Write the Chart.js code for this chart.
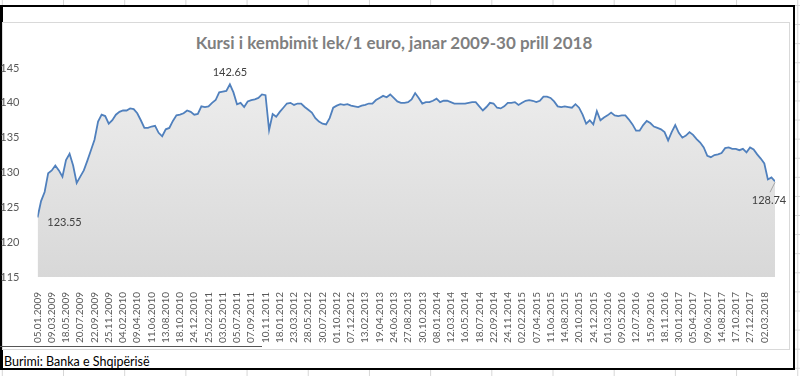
<!DOCTYPE html>
<html>
<head>
<meta charset="utf-8">
<script src="https://cdn.jsdelivr.net/npm/chart.js@4/dist/chart.umd.min.js"></script>
<style>
body{margin:0;width:800px;height:376px;position:relative;overflow:hidden;font-family:Lato,"Open Sans",sans-serif;
background:
linear-gradient(to right,#d6d6d6 1px,transparent 1px) 63px 0/61.2px 100%,
linear-gradient(to bottom,#d6d6d6 1px,transparent 1px) 0 5px/100% 19.1px,#fff;}
#box{position:absolute;left:0;top:5px;width:795px;height:365px;box-sizing:border-box;border:2px solid #000;border-left-width:3px;background:#fff}
#obj{position:absolute;left:2px;top:22px;width:788px;height:328px;box-sizing:border-box;border:1px solid #d9d9d9}
#sep{position:absolute;left:0;top:346px;width:262px;height:1px;background:#555}
#title{position:absolute;left:0;top:32px;width:788px;text-align:center;font-weight:bold;font-size:17px;color:#7f7f7f}
#src{position:absolute;left:4px;top:354px;font-size:12.5px;color:#000}
canvas{position:absolute;left:0;top:0}
</style>
</head>
<body>
<div id="box"></div>
<div id="obj"></div>
<div id="sep"></div>
<div id="title">Kursi i kembimit lek/1 euro, janar 2009-30 prill 2018</div>
<div id="src">Burimi: Banka e Shqipërisë</div>
<canvas id="chart" width="800" height="376"></canvas>
<script>
// tick labels on the date axis
const dates=["05.01.2009","09.03.2009","18.05.2009","20.07.2009","22.09.2009","25.11.2009",
"04.02.2010","09.04.2010","11.06.2010","13.08.2010","18.10.2010","24.12.2010",
"25.02.2011","03.05.2011","05.07.2011","07.09.2011","10.11.2011",
"18.01.2012","23.03.2012","28.05.2012","30.07.2012","01.10.2012","07.12.2012",
"13.02.2013","19.04.2013","24.06.2013","27.08.2013","30.10.2013",
"08.01.2014","12.03.2014","16.05.2014","18.07.2014","22.09.2014","24.11.2014",
"02.02.2015","07.04.2015","11.06.2015","14.08.2015","20.10.2015","24.12.2015",
"01.03.2016","09.05.2016","12.07.2016","15.09.2016","18.11.2016",
"30.01.2017","05.04.2017","09.06.2017","14.08.2017","17.10.2017","27.12.2017",
"02.03.2018"];

// lek per euro, 4 readings per date label
const perLabel=4;
const values=[
123.55,125.9,127.2,129.9,130.3,131.0,130.3,129.4,131.8,132.7,131.0,128.5,129.4,130.3,131.7,133.2,
134.7,137.3,138.3,138.1,137.0,137.5,138.3,138.7,138.9,138.9,139.2,139.1,138.5,137.5,136.4,136.4,
136.6,136.7,135.7,135.2,136.2,136.4,137.4,138.2,138.3,138.5,138.9,138.7,138.3,138.4,139.5,139.4,
139.5,140.0,140.4,141.5,141.6,141.7,142.65,141.5,139.8,140.0,139.4,140.2,140.4,140.5,140.7,141.2,
141.1,136.1,138.4,138.0,138.7,139.3,139.9,140.0,139.7,139.9,139.9,139.4,139.0,138.6,137.8,137.3,
137.0,136.9,137.8,139.3,139.6,139.8,139.7,139.8,139.6,139.5,139.4,139.6,139.7,139.9,139.9,140.4,
140.7,141.0,140.8,141.2,140.7,140.2,140.0,140.0,140.1,140.5,141.4,140.7,139.9,140.1,140.1,140.3,
140.6,140.1,140.3,140.3,140.1,139.9,139.9,139.9,139.9,140.0,140.1,140.1,139.5,138.9,139.4,140.0,
139.9,139.3,139.2,139.5,140.0,140.0,140.1,139.7,140.0,140.3,140.4,140.3,140.1,140.3,140.9,140.9,
140.7,140.2,139.5,139.4,139.5,139.4,139.3,139.8,139.3,138.3,137.0,137.5,136.9,138.8,137.5,137.9,
138.2,138.6,138.2,138.1,138.2,138.2,137.6,136.9,136.0,136.0,136.8,137.4,137.1,136.6,136.4,136.2,
135.8,134.6,135.8,136.8,135.7,135.0,135.3,135.8,135.4,134.8,134.3,133.6,132.4,132.2,132.5,132.6,
132.8,133.5,133.6,133.4,133.4,133.2,133.4,132.9,133.6,133.3,132.6,132.0,131.3,129.0,129.3,128.74];

const yTicks=[115,120,125,130,135,140,145];

let pts=values.map((v,i)=>({x:i/perLabel,y:v}));
let iMax=values.indexOf(Math.max(...values));
let iMin=values.indexOf(Math.min(...values));
let iLast=values.length-1;

// data labels like the excel ones
const labelPlugin={id:"lbl",afterDatasetsDraw(chart){
let c=chart.ctx,m=chart.getDatasetMeta(0).data;
c.save();
c.font="11px Lato";c.fillStyle="#404040";c.textAlign="center";c.textBaseline="middle";
let p=m[iMax];c.fillText(values[iMax].toFixed(2),p.x,p.y-12);
p=m[iMin];c.fillText(values[iMin].toFixed(2),p.x+27,p.y+5);
p=m[iLast];
c.strokeStyle="#a6a6a6";c.lineWidth=1;
c.beginPath();c.moveTo(p.x,p.y+1);c.lineTo(p.x-5,p.y+11);c.stroke();
c.fillText(values[iLast].toFixed(2),p.x-6,p.y+19);
c.restore();
}};

new Chart(document.getElementById("chart"),{
type:"line",
data:{datasets:[{
data:pts,
borderColor:"#5080bd",borderWidth:1.8,pointRadius:0,tension:0,
fill:"start",
backgroundColor:ctx=>{
let a=ctx.chart.chartArea;
if(!a)return "#e0e0e0";
let g=ctx.chart.ctx.createLinearGradient(0,a.top,0,a.bottom);
g.addColorStop(0,"#eeeeee");g.addColorStop(1,"#d8d8d8");
return g;
}}]},
options:{
responsive:false,animation:false,devicePixelRatio:1,
layout:{padding:{left:0,right:25,top:68,bottom:0}},
plugins:{legend:{display:false},title:{display:false},tooltip:{enabled:false}},
scales:{
x:{type:"linear",min:0,max:iLast/perLabel,
grid:{display:false},border:{display:false},
afterFit:s=>{s.height=99},
afterBuildTicks:s=>{s.ticks=dates.map((d,i)=>({value:i}))},
ticks:{autoSkip:false,minRotation:90,maxRotation:90,padding:7,color:"#595959",
font:{family:"Lato",size:10},callback:v=>dates[v]}},
y:{min:yTicks[0],max:yTicks[yTicks.length-1],
grid:{display:false},border:{display:false},
afterFit:s=>{s.width=37.5},
afterBuildTicks:s=>{s.ticks=yTicks.map(v=>({value:v}))},
ticks:{padding:10,color:"#595959",font:{family:"Lato",size:11}}}
}},
plugins:[labelPlugin]
});
</script>
</body>
</html>
